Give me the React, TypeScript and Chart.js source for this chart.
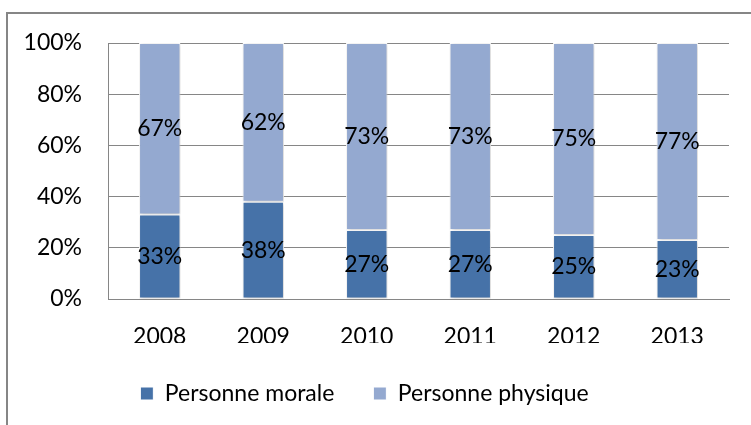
import React, { useEffect, useRef } from "react";
import { Chart, registerables } from "chart.js";

Chart.register(...registerables);

const categories = ["2008", "2009", "2010", "2011", "2012", "2013"];
const morale = [33, 38, 27, 27, 25, 23];
const physique = [67, 62, 73, 73, 75, 77];
const yTicks = [0, 20, 40, 60, 80, 100];
const seriesNames = ["Personne morale", "Personne physique"];

const FONT = "Lato, 'Open Sans', sans-serif";
const FS = 23;

export default function App() {
  const ref = useRef<HTMLCanvasElement | null>(null);
  useEffect(() => {
    document.body.style.margin = "0";
    const canvas = ref.current!;
    const borderPlugin = {
      id: "outerBorder",
      beforeDraw(chart: any) {
        const ctx = chart.ctx;
        ctx.save();
        ctx.fillStyle = "#ffffff";
        ctx.fillRect(0, 0, chart.width, chart.height);
        ctx.strokeStyle = "#868686";
        ctx.lineWidth = 2;
        ctx.strokeRect(7, 13, chart.width + 20, chart.height + 20);
        ctx.restore();
      },
    };
    const shadowPlugin = {
      id: "barShadow",
      beforeDatasetsDraw(chart: any) {
        const ctx = chart.ctx;
        ctx.save();
        ctx.shadowColor = "rgba(0,0,0,0.22)";
        ctx.shadowBlur = 4;
        ctx.shadowOffsetX = 1;
        ctx.shadowOffsetY = 1;
      },
      afterDatasetsDraw(chart: any) {
        chart.ctx.restore();
      },
    };
    const labelPlugin = {
      id: "valueLabels",
      afterDatasetsDraw(chart: any) {
        const ctx = chart.ctx;
        ctx.save();
        ctx.font = `${FS}px ${FONT}`;
        ctx.fillStyle = "#000000";
        ctx.textAlign = "center";
        ctx.textBaseline = "middle";
        chart.data.datasets.forEach((ds: any, di: number) => {
          const meta = chart.getDatasetMeta(di);
          meta.data.forEach((el: any, i: number) => {
            const y = (el.y + el.base) / 2;
            ctx.fillText(ds.data[i] + "%", el.x, y);
          });
        });
        ctx.restore();
      },
    };
    const chart = new Chart(canvas, {
      type: "bar",
      data: {
        labels: categories,
        datasets: [
          {
            label: seriesNames[0],
            data: morale,
            backgroundColor: "#4672A8",
            borderColor: "#ffffff",
            borderWidth: 1,
            borderSkipped: false,
          },
          {
            label: seriesNames[1],
            data: physique,
            backgroundColor: "#94A9D0",
            borderColor: "#ffffff",
            borderWidth: 1,
            borderSkipped: false,
          },
        ],
      },
      options: {
        animation: false,
        responsive: false,
        devicePixelRatio: 1,
        layout: { padding: { left: 0, right: 22, top: 43, bottom: 10 } },
        datasets: { bar: { categoryPercentage: 1, barPercentage: 0.4 } } as any,
        scales: {
          x: {
            stacked: true,
            grid: { display: false, drawTicks: false },
            border: { display: true, color: "#868686", width: 1 },
            ticks: { font: { family: FONT, size: FS }, color: "#000", padding: 24 },
            afterFit(scale: any) {
              scale.height = 44;
            },
          },
          y: {
            stacked: true,
            min: 0,
            max: 100,
            afterBuildTicks(scale: any) {
              scale.ticks = yTicks.map((v) => ({ value: v }));
            },
            grid: { color: "#868686", drawTicks: false },
            border: { display: true, color: "#868686", width: 1 },
            ticks: {
              font: { family: FONT, size: FS },
              color: "#000",
              padding: 26,
              callback: (v: any) => v + "%",
            },
            afterFit(scale: any) {
              scale.width = 108;
            },
          },
        },
        plugins: {
          legend: {
            position: "bottom",
            labels: {
              font: { family: FONT, size: FS },
              color: "#000",
              boxWidth: 13,
              boxHeight: 13,
              padding: 39,
            },
          },
          tooltip: { enabled: false },
        },
      },
      plugins: [borderPlugin, shadowPlugin, labelPlugin],
    });
    return () => chart.destroy();
  }, []);
  return <canvas ref={ref} width={751} height={425} style={{ display: "block" }} />;
}
